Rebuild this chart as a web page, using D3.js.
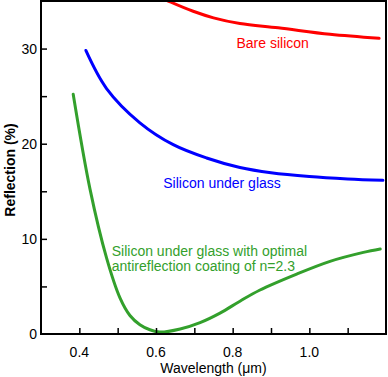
<!DOCTYPE html>
<head>
    <meta charset="utf-8">
    <script src="https://d3js.org/d3.v7.min.js"></script>
    <style>
        body { margin: 0; background: #fff; }
        text { font-family: "Liberation Sans", Arial, sans-serif; }
    </style>
</head>
<body>
    <svg id="chart" width="388" height="377"></svg>
    <script>
        // Reflection vs wavelength
        var bareX = [0.60, 0.639, 0.697, 0.750, 0.819, 0.919, 1.054, 1.182];
        var bareY = [35.6, 34.87, 33.92, 33.23, 32.63, 32.18, 31.5, 31.08];

        var glassX = [0.417, 0.471, 0.558, 0.645, 0.732, 0.819, 0.90, 1.0, 1.1, 1.192];
        var glassY = [29.8, 25.8, 22.2, 19.9, 18.5, 17.5, 16.95, 16.55, 16.3, 16.15];

        var arcX = [0.384, 0.428, 0.471, 0.506, 0.532, 0.558, 0.584, 0.610, 0.663, 0.715, 0.767, 0.819, 0.87, 0.967, 1.054, 1.141, 1.185];
        var arcY = [25.2, 15.2, 8.0, 3.8, 1.95, 0.98, 0.45, 0.2, 0.53, 1.2, 2.2, 3.45, 4.6, 6.3, 7.64, 8.58, 8.94];

        var xTicks = [0.4, 0.5, 0.6, 0.7, 0.8, 0.9, 1.0, 1.1];
        var xLabels = [0.4, 0.6, 0.8, 1.0];
        var yTicks = [5, 10, 15, 20, 25, 30];
        var yLabels = [0, 10, 20, 30];

        var svg = d3.select("#chart"),
            width = +svg.attr("width"),
            height = +svg.attr("height");
        var margin = {top: 1, right: 2, bottom: 43, left: 41};

        var x = d3.scaleLinear().domain([0.3, 1.2]).range([margin.left, width - margin.right]);
        var y = d3.scaleLinear().domain([0, 35]).range([height - margin.bottom, margin.top]);

        svg.append("clipPath").attr("id", "plot")
            .append("rect")
            .attr("x", margin.left).attr("y", margin.top)
            .attr("width", width - margin.left - margin.right)
            .attr("height", height - margin.top - margin.bottom);

        var line = d3.line()
            .x(function (d) { return x(d[0]); })
            .y(function (d) { return y(d[1]); })
            .curve(d3.curveCatmullRom.alpha(0.5));

        var series = [
            {xs: bareX, ys: bareY, color: "#ff0000"},
            {xs: glassX, ys: glassY, color: "#0000ff"},
            {xs: arcX, ys: arcY, color: "#33a02c"}
        ];

        svg.append("g").attr("clip-path", "url(#plot)")
            .selectAll("path")
            .data(series)
            .enter().append("path")
            .attr("d", function (s) { return line(d3.zip(s.xs, s.ys)); })
            .attr("fill", "none")
            .attr("stroke", function (s) { return s.color; })
            .attr("stroke-width", 3)
            .attr("stroke-linecap", "round");

        // frame
        svg.append("rect")
            .attr("x", margin.left).attr("y", margin.top)
            .attr("width", width - margin.left - margin.right)
            .attr("height", height - margin.top - margin.bottom)
            .attr("fill", "none")
            .attr("stroke", "#000")
            .attr("stroke-width", 2);

        // inward ticks
        svg.append("g").attr("transform", "translate(0," + y(0) + ")")
            .call(d3.axisTop(x).tickValues(xTicks).tickSize(6).tickFormat(""))
            .call(function (g) { g.select(".domain").remove(); })
            .selectAll("line").attr("stroke-width", 1.5);
        svg.append("g").attr("transform", "translate(" + x(0.3) + ",0)")
            .call(d3.axisRight(y).tickValues(yTicks).tickSize(6).tickFormat(""))
            .call(function (g) { g.select(".domain").remove(); })
            .selectAll("line").attr("stroke-width", 1.5);

        // tick labels
        svg.append("g").selectAll("text")
            .data(xLabels).enter().append("text")
            .attr("x", function (d) { return x(d); })
            .attr("y", 357)
            .attr("text-anchor", "middle")
            .attr("font-size", 14)
            .text(function (d) { return d3.format(".1f")(d); });
        svg.append("g").selectAll("text")
            .data(yLabels).enter().append("text")
            .attr("x", 37)
            .attr("y", function (d) { return y(d) + 5; })
            .attr("text-anchor", "end")
            .attr("font-size", 14)
            .text(function (d) { return d; });

        // axis titles
        svg.append("text")
            .attr("x", (x(0.3) + x(1.2)) / 2)
            .attr("y", 373)
            .attr("text-anchor", "middle")
            .attr("font-size", 14)
            .text("Wavelength (μm)");
        svg.append("text")
            .attr("transform", "translate(15," + 170 + ") rotate(-90)")
            .attr("text-anchor", "middle")
            .attr("font-size", 14)
            .attr("font-weight", "bold")
            .text("Reflection (%)");

        // curve labels
        var labels = [
            {text: "Bare silicon", at: [0.81, 30.05], color: "#ff0000"},
            {text: "Silicon under glass", at: [0.619, 15.3], color: "#0000ff"},
            {text: "Silicon under glass with optimal", at: [0.4845, 8.16], color: "#33a02c"},
            {text: "antireflection coating of n=2.3", at: [0.4845, 6.58], color: "#33a02c"}
        ];
        svg.append("g").selectAll("text")
            .data(labels).enter().append("text")
            .attr("x", function (d) { return x(d.at[0]); })
            .attr("y", function (d) { return y(d.at[1]); })
            .attr("font-size", 14)
            .attr("fill", function (d) { return d.color; })
            .text(function (d) { return d.text; });
    </script>
</body>
